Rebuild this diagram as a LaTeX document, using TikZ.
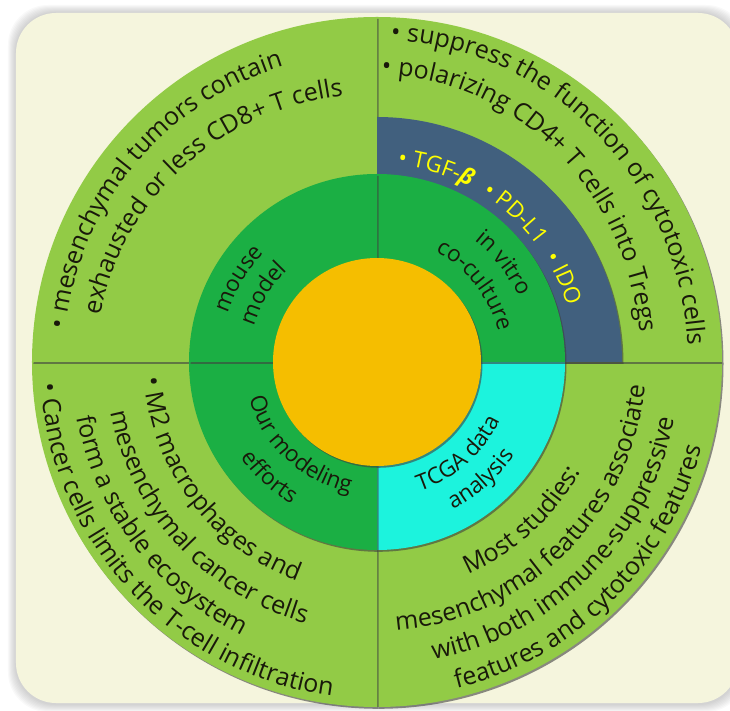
\documentclass[tikz,border=0pt]{standalone}
\usepackage{fontspec}
\setmainfont{Open Sans}
\usetikzlibrary{decorations.text,shadows}

\definecolor{bgcream}{RGB}{245,245,221}
\definecolor{leafgreen}{RGB}{146,203,70}
\definecolor{midgreen}{RGB}{27,175,68}
\definecolor{coreyellow}{RGB}{245,190,0}
\definecolor{tealcyan}{RGB}{28,243,221}
\definecolor{slateblue}{RGB}{65,96,126}
\definecolor{inkdark}{RGB}{25,25,10}
\definecolor{cytoyellow}{RGB}{255,255,0}

\newcommand{\bigtxt}{\fontsize{25}{30}\selectfont}
\newcommand{\ringtxt}{\fontsize{22.5}{27}\selectfont}

% pie slice: colour, radius, from, to
\newcommand{\slice}[4]{\fill[#1,cast] (0,0) -- (#3:#2) arc[start angle=#3,end angle=#4,radius=#2] -- cycle;}
% text on an arc: options, x radius, y radius, from, to, text
\newcommand{\arclabel}[6]{\path[decorate,decoration={text along path,text color=inkdark,#1,text={#6}}]
  (#4:#2 and #3) arc[start angle=#4,end angle=#5,x radius=#2,y radius=#3];}

\begin{document}
\begin{tikzpicture}[x=1pt,y=1pt,
cast/.style={drop shadow={shadow xshift=1.5pt,shadow yshift=-1.8pt,opacity=.6,fill=black!75}}]
\useasboundingbox (-377,-349) rectangle (353,362);

% background card
\foreach \g in {1,...,8}
  \fill[black,opacity=.025,rounded corners=40pt] (-361-\g,-342-\g) rectangle (361+\g,349+\g);
\fill[bgcream,rounded corners=40pt] (-361,-341) rectangle (361,349);

% outer ring
\slice{leafgreen}{345pt}{270}{360}
\slice{leafgreen}{345pt}{180}{270}
\slice{leafgreen}{345pt}{0}{90}
\slice{leafgreen}{345pt}{90}{180}
\slice{slateblue}{245pt}{0}{90}

% middle ring
\slice{tealcyan}{188pt}{270}{360}
\slice{midgreen}{188pt}{180}{270}
\slice{midgreen}{188pt}{0}{90}
\slice{midgreen}{188pt}{90}{180}

% core
\fill[coreyellow,cast] (0,0) circle[radius=104pt];

% top left
\arclabel{text align=left}{313pt}{310pt}{174}{80}{|\bigtxt|• mesenchymal tumors contain}
\arclabel{text align=left}{281pt}{268pt}{170}{80}{|\bigtxt|exhausted or less CD8+ T cells}

% top right
\arclabel{text align=left}{311pt}{322pt}{87.5}{-15}{|\bigtxt|• suppress the function of cytotoxic cells}
\arclabel{text align=left}{264pt}{287pt}{89}{-15}{|\bigtxt|• polarizing CD4+ T cells into Tregs}
\arclabel{text align=left,text color=cytoyellow}{198pt}{198pt}{84}{-10}{|\ringtxt|• TGF-{\bfseries\itshape β}{\kern8pt} • PD-L1{\kern8pt} • IDO}

% bottom left
\arclabel{text align=left}{233pt}{233pt}{183.8}{300}{|\bigtxt|• M2 macrophages and}
\arclabel{text align=left}{271pt}{271pt}{190.7}{300}{|\bigtxt|mesenchymal cancer cells}
\arclabel{text align=left}{305pt}{305pt}{190.4}{300}{|\bigtxt|form a stable ecosystem}
\arclabel{text align=left}{337pt}{337pt}{183.6}{300}{|\bigtxt|• Cancer cells limits the T-cell infiltration}

% bottom right
\arclabel{text align=center}{231pt}{231pt}{262.5}{362.5}{|\bigtxt|Most studies:}
\arclabel{text align=center}{269pt}{269pt}{264.5}{364.5}{|\bigtxt|mesenchymal features associate}
\arclabel{text align=center}{303pt}{303pt}{265}{365}{|\bigtxt|with both immune-suppressive}
\arclabel{text align=center}{336pt}{336pt}{264.5}{364.5}{|\bigtxt|features and cytotoxic features}

% middle ring labels
\arclabel{text align=center}{157pt}{157pt}{199}{99}{|\ringtxt|mouse}
\arclabel{text align=center}{128pt}{128pt}{199}{99}{|\ringtxt|model}
\arclabel{text align=center}{156pt}{156pt}{88}{-12}{|\ringtxt|in vitro}
\arclabel{text align=center}{125pt}{125pt}{88}{-12}{|\ringtxt|co-culture}
\arclabel{text align=center}{133pt}{133pt}{177}{277}{|\ringtxt|Our modeling}
\arclabel{text align=center}{166pt}{166pt}{177}{277}{|\ringtxt|efforts}
\arclabel{text align=center}{136pt}{136pt}{261.5}{361.5}{|\ringtxt|TCGA data}
\arclabel{text align=center}{166pt}{166pt}{261.5}{361.5}{|\ringtxt|analysis}
\end{tikzpicture}
\end{document}
